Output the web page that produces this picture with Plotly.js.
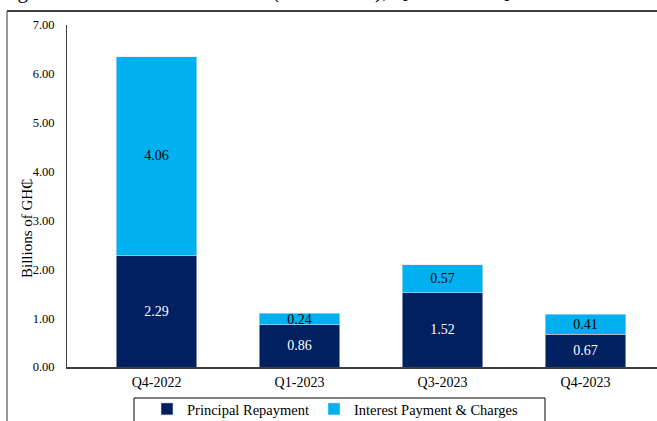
<!DOCTYPE html>
<html>
<head>
<meta charset="utf-8">
<script src="https://cdn.plot.ly/plotly-3.0.1.min.js"></script>
<style>
html,body{margin:0;padding:0;background:#fff;}
#chart{width:657px;height:421px;}
</style>
</head>
<body>
<div id="chart"></div>
<script>
const categories = ["Q4-2022", "Q1-2023", "Q3-2023", "Q4-2023"];
const principal = [2.29, 0.86, 1.52, 0.67];
const interest = [4.06, 0.24, 0.57, 0.41];
const seriesNames = ["Principal Repayment", "Interest Payment & Charges"];
const yTicks = [0, 1, 2, 3, 4, 5, 6, 7];
const titleText = "Figure 9: External Debt Service (Provisional), Q4-2022 to Q4-2023";
const yTitle = "Billions of GH\u20B5";

const FONT = "Liberation Serif, DejaVu Serif, serif";

const common = {
  type: 'bar',
  x: categories,
  width: 0.56,
  texttemplate: '%{y:.2f}',
  textposition: 'inside',
  insidetextanchor: 'middle',
  constraintext: 'none',
  hoverinfo: 'skip'
};

const traces = [
  Object.assign({}, common, {
    name: seriesNames[0],
    y: principal,
    marker: {color: '#002060', line: {color: 'rgba(220,225,235,0.9)', width: 0.6}},
    textfont: {family: FONT, size: 14, color: '#ffffff'}
  }),
  Object.assign({}, common, {
    name: seriesNames[1],
    y: interest,
    marker: {color: '#00B0F0', line: {color: 'rgba(220,225,235,0.9)', width: 0.6}},
    textfont: {family: FONT, size: 14, color: '#000000'}
  })
];

// pixel helpers for paper coords (plot area: x 67..657, y 25..367)
const px = x => (x - 67) / 590;
const py = y => (367 - y) / 342;

const layout = {
  width: 657,
  height: 421,
  margin: {l: 67, r: 0, t: 25, b: 54, autoexpand: false},
  paper_bgcolor: '#ffffff',
  plot_bgcolor: '#ffffff',
  barmode: 'stack',
  font: {family: FONT, size: 14, color: '#000000'},
  showlegend: true,
  legend: {
    orientation: 'h',
    x: px(335), xanchor: 'center',
    y: py(393), yanchor: 'top',
    borderwidth: 0,
    bgcolor: 'rgba(0,0,0,0)',
    font: {family: FONT, size: 14.5, color: '#000000'},
    traceorder: 'normal',
    itemwidth: 30,
    itemclick: false
  },
  xaxis: {
    range: [-0.626, 3.5],
    showline: true, linecolor: '#404040', linewidth: 1.5,
    ticks: '', showgrid: false, zeroline: false,
    ticklabelstandoff: 2,
    tickfont: {family: FONT, size: 14, color: '#000000'},
    fixedrange: true
  },
  yaxis: {
    range: [0, 7],
    tickvals: yTicks,
    tickformat: '.2f',
    showline: true, linecolor: '#404040', linewidth: 1,
    ticks: '', showgrid: false, zeroline: false,
    ticklabelstandoff: 9,
    tickfont: {family: FONT, size: 12.5, color: '#000000'},
    fixedrange: true
  },
  annotations: [
    {
      text: yTitle, textangle: -90,
      xref: 'paper', yref: 'paper',
      x: px(27), y: py(229), xanchor: 'center', yanchor: 'middle',
      showarrow: false,
      font: {family: FONT, size: 15, color: '#000000'}
    },
    {
      text: titleText,
      xref: 'paper', yref: 'paper',
      x: px(-2), y: py(5), xanchor: 'left', yanchor: 'bottom',
      showarrow: false,
      font: {family: FONT, size: 21, color: '#000000'}
    }
  ],
  shapes: [
    {type: 'line', xref: 'paper', yref: 'paper', x0: px(7), x1: px(660), y0: py(11), y1: py(11),
     line: {color: '#000000', width: 1.5}},
    {type: 'line', xref: 'paper', yref: 'paper', x0: px(7), x1: px(7), y0: py(11), y1: py(430),
     line: {color: '#555555', width: 1.2}},
    {type: 'rect', xref: 'paper', yref: 'paper', x0: px(134), x1: px(545), y0: py(398), y1: py(432),
     line: {color: '#000000', width: 1}, fillcolor: 'rgba(0,0,0,0)'}
  ]
};

Plotly.newPlot('chart', traces, layout, {displayModeBar: false, staticPlot: true});
</script>
</body>
</html>
